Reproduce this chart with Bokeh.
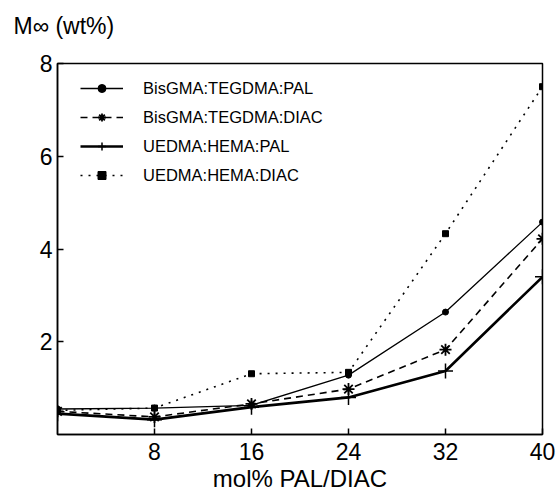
from bokeh.plotting import figure
from bokeh.models import Range1d, FixedTicker, Legend, LegendItem, Label
from bokeh.embed import file_html
from bokeh.resources import INLINE

# ---- data ----
mol_pct = [0, 8, 16, 24, 32, 40]
bis_pal = [0.55, 0.57, 0.63, 1.28, 2.64, 4.58]
bis_diac = [0.50, 0.38, 0.66, 0.98, 1.83, 4.22]
ue_pal = [0.45, 0.32, 0.59, 0.80, 1.37, 3.40]
ue_diac = [0.52, 0.57, 1.31, 1.34, 4.33, 7.50]
series_names = ["BisGMA:TEGDMA:PAL", "BisGMA:TEGDMA:DIAC", "UEDMA:HEMA:PAL", "UEDMA:HEMA:DIAC"]
x_ticks = [8, 16, 24, 32, 40]
y_ticks = [2, 4, 6, 8]
y_title = "M\u221e (wt%)"

FONT = "Liberation Sans"

p = figure(width=558, height=494, output_backend="svg", toolbar_location=None,
           x_range=Range1d(0, 40), y_range=Range1d(0, 8),
           min_border_left=57, min_border_right=16, min_border_top=63, min_border_bottom=59)
p.grid.visible = False
p.outline_line_color = "black"
p.outline_line_width = 1.5
p.background_fill_color = "white"
p.border_fill_color = "white"

for ax in (p.xaxis[0], p.yaxis[0]):
    ax.axis_line_width = 1.5
    ax.axis_line_color = "black"
    ax.major_tick_in = 6
    ax.major_tick_out = 0
    ax.major_tick_line_width = 1.5
    ax.minor_tick_line_color = None
    ax.major_label_text_font = FONT
    ax.major_label_text_font_size = "23px"
    ax.major_label_text_color = "black"

p.xaxis[0].ticker = FixedTicker(ticks=x_ticks)
p.yaxis[0].ticker = FixedTicker(ticks=y_ticks)
p.xaxis[0].major_label_standoff = 8
p.yaxis[0].major_label_standoff = 5
p.xaxis[0].axis_label = "mol% PAL/DIAC"
p.xaxis[0].axis_label_text_font = FONT
p.xaxis[0].axis_label_text_font_size = "24px"
p.xaxis[0].axis_label_text_font_style = "normal"
p.xaxis[0].axis_label_text_color = "black"
p.xaxis[0].axis_label_standoff = 2

# series
l1 = p.line(mol_pct, bis_pal, line_color="black", line_width=1.3)
m1 = p.scatter(mol_pct, bis_pal, marker="circle", size=6, fill_color="black", line_color="black")

l2 = p.line(mol_pct, bis_diac, line_color="black", line_width=1.6, line_dash="7 5")
m2 = p.scatter(mol_pct, bis_diac, marker="asterisk", size=12, line_color="black", line_width=1.8)

l3 = p.line(mol_pct, ue_pal, line_color="black", line_width=2.6)
m3 = p.scatter(mol_pct, ue_pal, marker="cross", size=15, line_color="black", line_width=1.5)

l4 = p.line(mol_pct, ue_diac, line_color="black", line_width=1.6, line_dash="2 6")
m4 = p.scatter(mol_pct, ue_diac, marker="square", size=6, fill_color="black", line_color="black")

legend = Legend(items=[
    LegendItem(label=series_names[0], renderers=[l1, m1]),
    LegendItem(label=series_names[1], renderers=[l2, m2]),
    LegendItem(label=series_names[2], renderers=[l3, m3]),
    LegendItem(label=series_names[3], renderers=[l4, m4]),
], location=(23, 249))
legend.border_line_color = None
legend.background_fill_alpha = 0
legend.padding = 0
legend.margin = 0
legend.spacing = 9
legend.glyph_width = 43
legend.glyph_height = 20
legend.label_height = 20
legend.label_standoff = 20
legend.label_text_font = FONT
legend.label_text_font_size = "16.5px"
legend.label_text_color = "black"
p.add_layout(legend, "center")

# y-axis title placed in the panel above the frame (not clipped there)
p.add_layout(Label(x=-44, y=38, x_units="screen", y_units="screen", text=y_title,
                   text_font=FONT, text_font_size="23px", text_color="black",
                   text_baseline="alphabetic"), "above")

open("out.html", "w").write(file_html(p, INLINE))
